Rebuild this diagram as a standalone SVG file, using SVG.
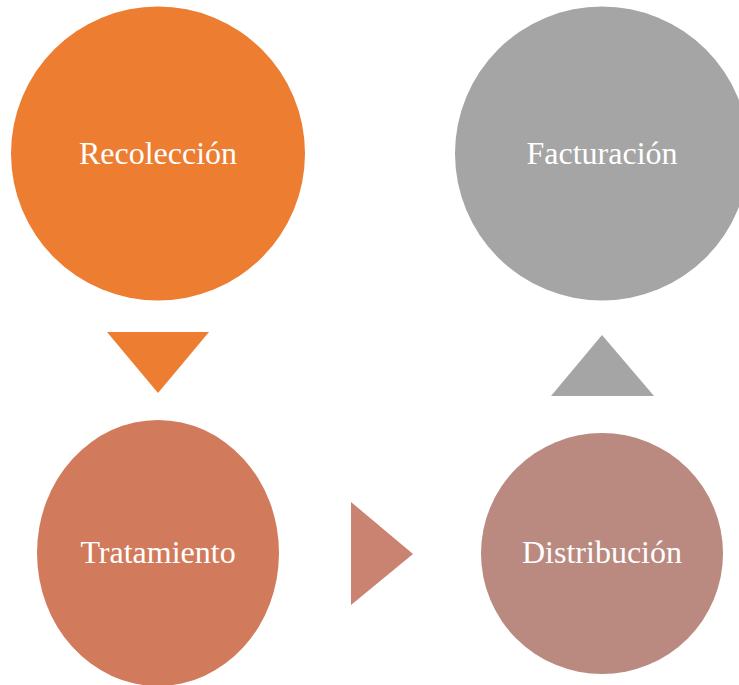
<svg xmlns="http://www.w3.org/2000/svg" width="739" height="685" viewBox="0 0 739 685">
<style>
.lbl{font-family:"Liberation Serif","Times New Roman",serif;font-size:32px;fill:#ffffff;text-anchor:middle}
</style>
<rect width="739" height="685" fill="#ffffff"/>
<g id="connectors">
<polygon points="107,332 209,332 158,393" fill="#ED7D31"/>
<polygon points="351,502 413,554 351,605" fill="#C98370"/>
<polygon points="551,396 654,396 602,335" fill="#A5A5A5"/>
</g>
<g id="recoleccion">
<circle cx="158" cy="153.5" r="147" fill="#ED7D31"/>
<text class="lbl" x="158" y="164">Recolección</text>
</g>
<g id="facturacion">
<circle cx="602" cy="153.5" r="147" fill="#A5A5A5"/>
<text class="lbl" x="602" y="164">Facturación</text>
</g>
<g id="tratamiento">
<ellipse cx="158" cy="553" rx="121" ry="133" fill="#D27B5C"/>
<text class="lbl" x="158" y="563">Tratamiento</text>
</g>
<g id="distribucion">
<ellipse cx="602" cy="553.5" rx="121" ry="120.5" fill="#BA8A80"/>
<text class="lbl" x="602" y="563">Distribución</text>
</g>
</svg>
